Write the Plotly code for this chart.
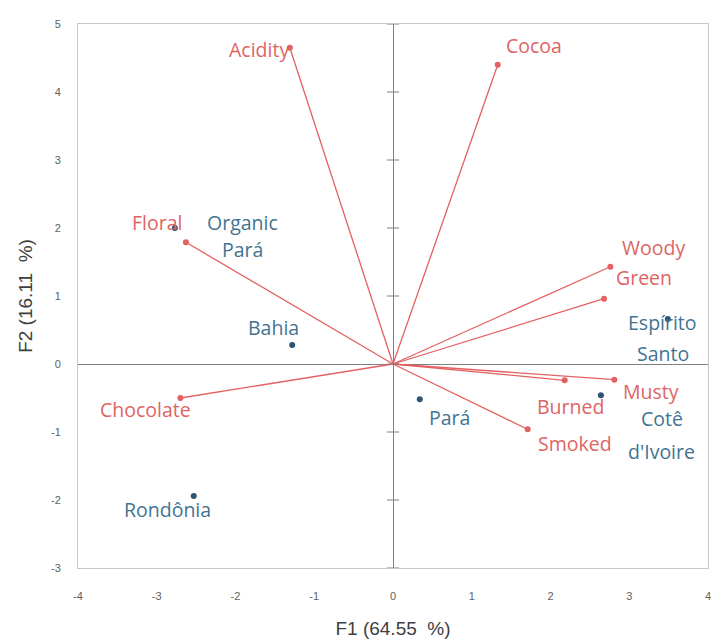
import plotly.graph_objects as go

# Sensory attributes (variable loadings on F1/F2)
attributes = ["Acidity", "Cocoa", "Woody", "Green", "Floral", "Chocolate", "Burned", "Musty", "Smoked"]
attr_f1 = [-1.31, 1.33, 2.76, 2.68, -2.63, -2.70, 2.18, 2.81, 1.71]
attr_f2 = [4.65, 4.40, 1.43, 0.96, 1.79, -0.50, -0.24, -0.23, -0.96]

# Origins (observation scores on F1/F2)
origins = ["Organic<br>Pará", "Bahia", "Rondônia", "Pará", "Espírito<br>Santo", "Cotê<br>d'Ivoire"]
orig_f1 = [-2.77, -1.28, -2.53, 0.34, 3.49, 2.64]
orig_f2 = [2.00, 0.28, -1.94, -0.52, 0.66, -0.46]

x_ticks = [-4, -3, -2, -1, 0, 1, 2, 3, 4]
y_ticks = [-3, -2, -1, 0, 1, 2, 3, 4, 5]

# Label placement: pixel offset (right, down) of each text line from its point
attr_offsets = {
    "Acidity": [(-31, 2)], "Cocoa": [(36, -19)], "Woody": [(43, -19)],
    "Green": [(40, -21)], "Floral": [(-29, -20)], "Chocolate": [(-35, 11)],
    "Burned": [(6, 26)], "Musty": [(37, 12)], "Smoked": [(47, 14)],
}
orig_offsets = {
    "Organic<br>Pará": [(68, -6), (68, 21)], "Bahia": [(-19, -17)],
    "Rondônia": [(-26, 14)], "Pará": [(30, 18)],
    "Espírito<br>Santo": [(-5, 3), (-5, 34)], "Cotê<br>d'Ivoire": [(61, 23), (61, 56)],
}

RED = "rgb(228,96,98)"
RED_TXT = "rgb(222,100,100)"
BLUE = "rgb(45,85,115)"
BLUE_TXT = "rgb(66,116,146)"
LABEL_FONT = "Open Sans"

fig = go.Figure()

# Loading vectors from the origin
for name, x, y in zip(attributes, attr_f1, attr_f2):
    fig.add_trace(go.Scatter(
        x=[0, x], y=[0, y], mode="lines",
        line=dict(color=RED, width=1.3), hoverinfo="skip", showlegend=False,
    ))
fig.add_trace(go.Scatter(
    x=attr_f1, y=attr_f2, mode="markers", text=attributes,
    marker=dict(color=RED, size=6), showlegend=False,
))
fig.add_trace(go.Scatter(
    x=orig_f1, y=orig_f2, mode="markers", text=origins,
    marker=dict(color=BLUE, size=6), showlegend=False,
))

annotations = []
for names, xs, ys, offsets, color in (
    (attributes, attr_f1, attr_f2, attr_offsets, RED_TXT),
    (origins, orig_f1, orig_f2, orig_offsets, BLUE_TXT),
):
    for name, x, y in zip(names, xs, ys):
        for line, (dx, dy) in zip(name.split("<br>"), offsets[name]):
            annotations.append(dict(
                x=x, y=y, xref="x", yref="y", text=line, showarrow=False,
                xanchor="center", yanchor="middle", xshift=dx, yshift=-dy,
                font=dict(family=LABEL_FONT, size=19.5, color=color),
            ))

# Cross ticks on the vertical zero axis
shapes = [
    dict(type="line", xref="x", yref="y", xsizemode="pixel", xanchor=0,
         x0=-6, x1=6, y0=t, y1=t, line=dict(color="#7f7f7f", width=1))
    for t in y_ticks
]

axis_common = dict(
    showgrid=False, zeroline=True, zerolinecolor="#7f7f7f", zerolinewidth=1,
    showline=True, mirror=True, linecolor="#c8c8c8", linewidth=1,
    ticks="", tickfont=dict(family="Liberation Sans", size=11, color="#606060"),
    automargin=False,
)

fig.update_layout(
    width=716, height=642,
    margin=dict(l=78, r=8, t=24, b=74),
    paper_bgcolor="white", plot_bgcolor="white",
    xaxis=dict(range=[-4, 4], tickvals=x_ticks, ticktext=[str(v) for v in x_ticks],
               ticklabelstandoff=18,
               title=dict(text="F1 (64.55  %)", standoff=20,
                          font=dict(family="Liberation Sans", size=19, color="#404040")),
               **axis_common),
    yaxis=dict(range=[-3, 5], tickvals=y_ticks, ticktext=[str(v) for v in y_ticks],
               ticklabelstandoff=14,
               title=dict(text="F2 (16.11  %)", standoff=13,
                          font=dict(family="Liberation Sans", size=19, color="#404040")),
               **axis_common),
    annotations=annotations,
    shapes=shapes,
)

fig.write_html("out.html")
